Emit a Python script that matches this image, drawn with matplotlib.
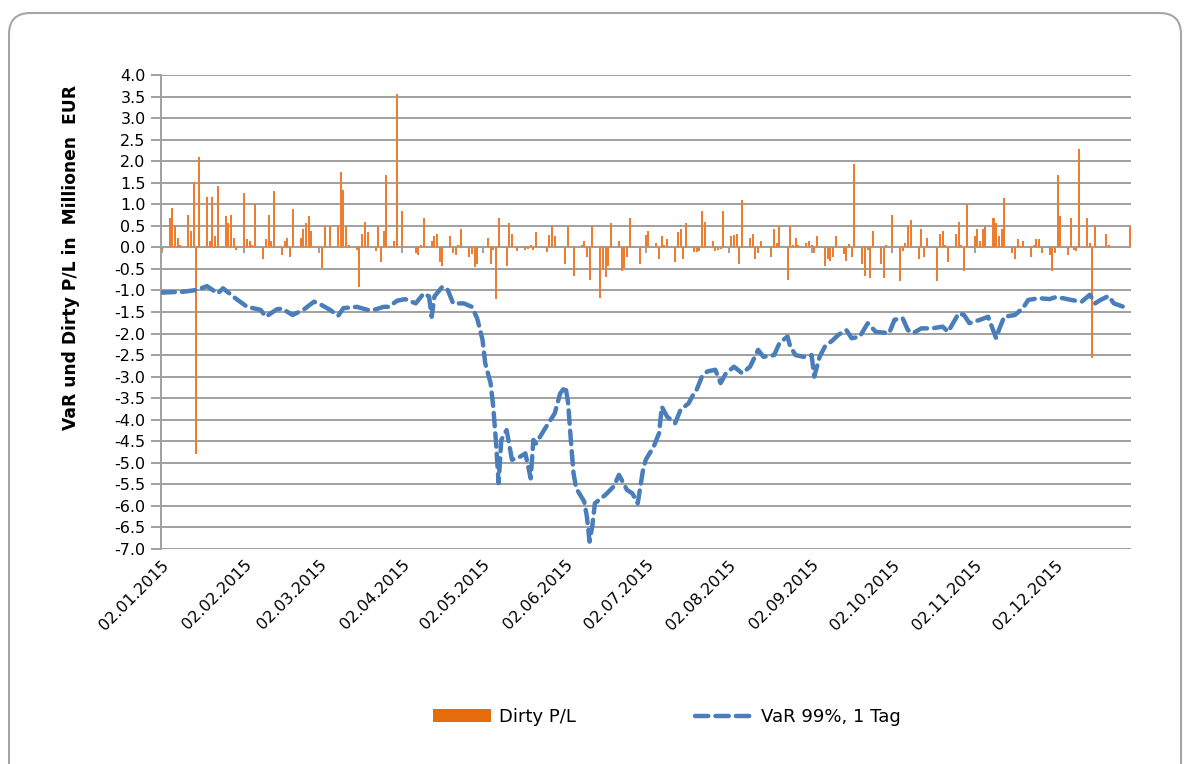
import matplotlib
matplotlib.use("Agg")
import matplotlib.pyplot as plt
import matplotlib.dates as mdates
from matplotlib.patches import FancyBboxPatch, Patch
from matplotlib.lines import Line2D
import pandas as pd
import numpy as np

plt.rcParams['font.family'] = ['DejaVu Sans']

# ---------------- data ----------------
pl_dates = [
    "01-02", "01-05", "01-06", "01-07", "01-08", "01-09", "01-12", "01-13", "01-14", "01-15",
    "01-16", "01-19", "01-20", "01-21", "01-22", "01-23", "01-26", "01-27", "01-28", "01-29",
    "01-30", "02-02", "02-03", "02-04", "02-05", "02-06", "02-09", "02-10", "02-11", "02-12",
    "02-13", "02-16", "02-17", "02-18", "02-19", "02-20", "02-23", "02-24", "02-25", "02-26",
    "02-27", "03-02", "03-03", "03-04", "03-06", "03-09", "03-10", "03-11", "03-12", "03-13",
    "03-16", "03-17", "03-18", "03-19", "03-20", "03-23", "03-24", "03-25", "03-26", "03-27",
    "03-30", "03-31", "04-02", "04-07", "04-08", "04-09", "04-10", "04-13", "04-14", "04-15",
    "04-16", "04-17", "04-20", "04-21", "04-22", "04-23", "04-24", "04-27", "04-28", "04-29",
    "04-30", "05-04", "05-05", "05-06", "05-07", "05-08", "05-11", "05-12", "05-13", "05-15",
    "05-18", "05-19", "05-20", "05-21", "05-22", "05-26", "05-27", "05-28", "05-29", "06-02",
    "06-03", "06-05", "06-08", "06-09", "06-10", "06-11", "06-12", "06-15", "06-16", "06-17",
    "06-18", "06-19", "06-22", "06-23", "06-24", "06-25", "06-26", "06-30", "07-02", "07-03",
    "07-06", "07-07", "07-08", "07-09", "07-10", "07-13", "07-14", "07-15", "07-16", "07-17",
    "07-20", "07-21", "07-22", "07-23", "07-24", "07-27", "07-28", "07-29", "07-30", "07-31",
    "08-03", "08-04", "08-05", "08-06", "08-07", "08-10", "08-11", "08-12", "08-13", "08-14",
    "08-18", "08-19", "08-20", "08-21", "08-24", "08-25", "08-26", "08-27", "08-28", "08-31",
    "09-01", "09-02", "09-03", "09-04", "09-07", "09-08", "09-09", "09-10", "09-11", "09-14",
    "09-15", "09-16", "09-17", "09-18", "09-21", "09-22", "09-23", "09-24", "09-25", "09-28",
    "09-29", "09-30", "10-02", "10-05", "10-06", "10-07", "10-08", "10-09", "10-12", "10-13",
    "10-14", "10-15", "10-19", "10-20", "10-21", "10-22", "10-23", "10-26", "10-27", "10-28",
    "10-29", "10-30", "11-02", "11-03", "11-04", "11-05", "11-06", "11-09", "11-10", "11-11",
    "11-12", "11-13", "11-16", "11-17", "11-18", "11-19", "11-20", "11-23", "11-24", "11-25",
    "11-26", "11-27", "11-30", "12-01", "12-02", "12-03", "12-04", "12-07", "12-08", "12-09",
    "12-10", "12-11", "12-14", "12-15", "12-16", "12-17", "12-21", "12-22", "12-30",
]
pl_values = [
    -0.05, 0.67, 0.92, 0.49, 0.22, 0.05, 0.76, 0.39, 1.52, -4.80,
    2.09, 1.18, 0.14, 1.18, 0.26, 1.42, 0.72, 0.56, 0.76, 0.22,
    -0.05, 1.26, 0.19, 0.14, 0.05, 1.00, -0.27, 0.19, 0.76, 0.14,
    1.30, -0.18, 0.14, 0.22, -0.23, 0.88, 0.22, 0.43, 0.56, 0.72,
    0.39, 0.03, -0.49, 0.49, 0.49, 0.49, 1.76, 1.34, 0.49, 0.05,
    -0.05, -0.92, 0.30, 0.60, 0.35, -0.09, 0.49, -0.35, 0.39, 1.67,
    0.14, 3.56, 0.85, -0.12, -0.17, 0.05, 0.68, 0.14, 0.27, 0.31,
    -0.35, -0.43, 0.26, -0.12, -0.17, 0.06, 0.43, -0.22, -0.15, -0.46,
    -0.39, 0.22, -0.39, -0.05, -1.20, 0.68, -0.43, 0.56, 0.31, -0.09,
    -0.05, -0.04, 0.06, -0.05, 0.35, -0.10, 0.29, 0.49, 0.26, -0.39,
    0.48, -0.67, 0.05, 0.14, -0.23, -0.76, 0.50, -1.17, -0.50, -0.68,
    -0.43, 0.56, 0.14, -0.56, -0.49, -0.22, 0.68, -0.39, 0.29, 0.39,
    0.09, -0.27, 0.26, 0.05, 0.19, -0.35, 0.35, 0.43, -0.27, 0.56,
    -0.10, -0.10, -0.09, 0.84, 0.60, 0.14, -0.09, -0.05, -0.04, 0.84,
    0.26, 0.29, 0.31, -0.39, 1.09, 0.22, 0.31, -0.27, -0.14, 0.14,
    -0.22, 0.43, 0.09, 0.50, -0.76, 0.50, 0.05, 0.22, 0.05, 0.09,
    0.14, 0.05, -0.14, 0.26, -0.43, -0.27, -0.31, -0.23, 0.26, -0.15,
    -0.31, 0.08, -0.23, 1.93, -0.39, -0.67, -0.05, -0.71, 0.39, -0.39,
    -0.71, 0.05, 0.76, -0.79, -0.08, 0.09, 0.49, 0.64, -0.27, 0.43,
    -0.23, 0.22, -0.79, 0.30, 0.39, 0.05, -0.35, 0.30, 0.60, 0.05,
    -0.54, 1.00, 0.26, 0.43, 0.14, 0.43, 0.49, 0.67, 0.56, 0.26,
    0.43, 1.14, -0.14, -0.27, 0.19, 0.04, 0.14, -0.23, 0.05, 0.19,
    0.19, -0.14, -0.18, -0.56, -0.10, 1.68, 0.72, -0.18, 0.68, -0.05,
    -0.09, 2.29, 0.68, 0.09, -2.57, 0.49, 0.30, 0.05, 0.49,
]

var_dates = [
    "01-02", "01-10", "01-15", "01-19", "01-23", "01-25", "01-30", "02-03", "02-08", "02-10",
    "02-14", "02-16", "02-20", "02-24", "02-28", "03-02", "03-06", "03-09", "03-11", "03-16",
    "03-20", "03-23", "03-26", "03-28", "03-31", "04-03", "04-07", "04-10", "04-12", "04-13",
    "04-14", "04-17", "04-19", "04-21", "04-25", "04-28", "04-30", "05-02", "05-03", "05-05",
    "05-06", "05-07", "05-08", "05-09", "05-11", "05-13", "05-16", "05-18", "05-20", "05-21",
    "05-22", "05-25", "05-29", "05-31", "06-02", "06-03", "06-04", "06-05", "06-06", "06-09",
    "06-10", "06-11", "06-12", "06-13", "06-17", "06-20", "06-22", "06-25", "06-27", "06-29",
    "07-01", "07-02", "07-05", "07-07", "07-08", "07-10", "07-13", "07-15", "07-18", "07-20",
    "07-21", "07-23", "07-25", "07-28", "07-30", "08-01", "08-04", "08-07", "08-10", "08-13",
    "08-15", "08-19", "08-21", "08-24", "08-25", "08-27", "08-30", "09-02", "09-03", "09-05",
    "09-07", "09-10", "09-12", "09-15", "09-17", "09-20", "09-23", "09-26", "10-01", "10-03",
    "10-06", "10-08", "10-10", "10-13", "10-17", "10-21", "10-23", "10-27", "10-29", "10-31",
    "11-04", "11-07", "11-10", "11-11", "11-13", "11-17", "11-20", "11-22", "11-26", "11-30",
    "12-02", "12-05", "12-08", "12-12", "12-15", "12-17", "12-19", "12-22", "12-24", "12-29",
]
var_values = [
    -1.05, -1.03, -0.99, -0.90, -1.07, -0.95, -1.20, -1.38, -1.45, -1.61,
    -1.44, -1.42, -1.57, -1.45, -1.26, -1.31, -1.45, -1.59, -1.41, -1.38,
    -1.45, -1.44, -1.38, -1.38, -1.24, -1.20, -1.30, -1.07, -1.14, -1.61,
    -1.14, -0.91, -0.99, -1.30, -1.30, -1.38, -1.65, -2.15, -2.69, -3.15,
    -3.70, -4.50, -5.47, -4.47, -4.24, -4.93, -4.86, -4.78, -5.36, -4.47,
    -4.55, -4.24, -3.85, -3.39, -3.23, -3.62, -4.47, -5.24, -5.59, -5.90,
    -6.25, -6.83, -6.48, -5.94, -5.74, -5.55, -5.28, -5.63, -5.71, -5.94,
    -5.16, -4.93, -4.62, -4.31, -3.70, -3.93, -4.08, -3.77, -3.62, -3.39,
    -3.31, -3.00, -2.88, -2.84, -3.15, -2.92, -2.77, -2.92, -2.77, -2.38,
    -2.54, -2.50, -2.22, -2.07, -2.30, -2.50, -2.54, -2.50, -3.00, -2.54,
    -2.30, -2.15, -2.03, -1.92, -2.11, -2.07, -1.76, -1.96, -1.99, -1.68,
    -1.64, -1.92, -1.99, -1.88, -1.88, -1.84, -1.96, -1.53, -1.57, -1.76,
    -1.68, -1.61, -2.11, -1.92, -1.61, -1.57, -1.41, -1.22, -1.18, -1.20,
    -1.16, -1.18, -1.22, -1.26, -1.10, -1.30, -1.22, -1.13, -1.30, -1.41,
]

x_tick_labels = ["02.01.2015", "02.02.2015", "02.03.2015", "02.04.2015", "02.05.2015",
                 "02.06.2015", "02.07.2015", "02.08.2015", "02.09.2015", "02.10.2015",
                 "02.11.2015", "02.12.2015"]
y_ticks = [4.0, 3.5, 3.0, 2.5, 2.0, 1.5, 1.0, 0.5, 0.0, -0.5, -1.0, -1.5, -2.0, -2.5,
           -3.0, -3.5, -4.0, -4.5, -5.0, -5.5, -6.0, -6.5, -7.0]

series_pl = "Dirty P/L"
series_var = "VaR 99%, 1 Tag"
y_label = "VaR und Dirty P/L in  Millionen  EUR"

# ---------------- plot ----------------
W, H = 1189, 764
fig = plt.figure(figsize=(W / 100, H / 100), dpi=100)
fig.patch.set_facecolor("white")

# chart frame (rounded)
frame = FancyBboxPatch((9 / W, -0.05), (1181 - 9) / W, (764 - 13) / H + 0.05,
                       boxstyle="round,pad=0,rounding_size=0.018",
                       transform=fig.transFigure, facecolor="none",
                       edgecolor="#a6a6a6", linewidth=1.5, mutation_aspect=W / H,
                       zorder=-5)
fig.patches.append(frame)

ax = fig.add_axes([161 / W, 1 - 549 / H, (1131 - 161) / W, (549 - 75) / H])
ax.set_facecolor("none")

pl_dt = pd.to_datetime(["2015-" + d for d in pl_dates])
var_dt = pd.to_datetime(["2015-" + d for d in var_dates])

orange = "#ED7D31"
blue = "#4A7EBB"
grid_c = "#a0a0a0"

ax.bar(pl_dt, pl_values, width=0.75, color=orange, zorder=3, linewidth=0)
ax.plot(var_dt, var_values, color=blue, linewidth=3.2, linestyle=(0, (3.0, 1.6)),
        dash_capstyle="round", solid_capstyle="round", zorder=4)

ax.set_ylim(-7.0, 4.0)
ax.set_yticks(y_ticks)
ax.set_yticklabels([f"{v:.1f}" for v in y_ticks], fontsize=11.5, color="#000000")
ax.yaxis.grid(True, color=grid_c, linewidth=1.4, zorder=0)
ax.set_axisbelow(True)

start = pd.Timestamp("2015-01-02")
end = pd.Timestamp("2015-12-30")
ax.set_xlim(mdates.date2num(start) - 0.2, mdates.date2num(end) + 0.4)
xt = pd.to_datetime([f"2015-{m:02d}-02" for m in range(1, 13)])
ax.set_xticks(xt)
ax.set_xticklabels(x_tick_labels, rotation=45, ha="right", rotation_mode="anchor",
                   fontsize=11.5)
ax.tick_params(axis="x", length=0, pad=6)
ax.tick_params(axis="y", length=7, color=grid_c, width=1.4, pad=4)

# category axis tick marks on the zero line
ax.vlines(xt, -0.13, 0, color=grid_c, linewidth=1.4, zorder=2)
ax.axhline(0, color=grid_c, linewidth=1.4, zorder=2)

for s in ["top", "right", "bottom"]:
    ax.spines[s].set_visible(False)
ax.spines["left"].set_color(grid_c)
ax.spines["left"].set_linewidth(1.4)

ax.set_ylabel(y_label, fontsize=12.3, fontweight="bold")
ax.yaxis.set_label_coords((80 - 161) / 970, (549 - 257) / 474)

handles = [Patch(facecolor="#E46C0A", edgecolor="none", label=series_pl),
           Line2D([0], [0], color=blue, linewidth=3.2, linestyle=(0, (3.0, 1.6)),
                  dash_capstyle="round", label=series_var)]
fig.legend(handles=handles, loc="center", bbox_to_anchor=(667 / W, 1 - 717 / H), ncol=2,
           frameon=False, fontsize=13, handlelength=3.2, handleheight=0.7,
           columnspacing=6.6, handletextpad=0.45)

fig.savefig("out.png", dpi=100, facecolor="white")
